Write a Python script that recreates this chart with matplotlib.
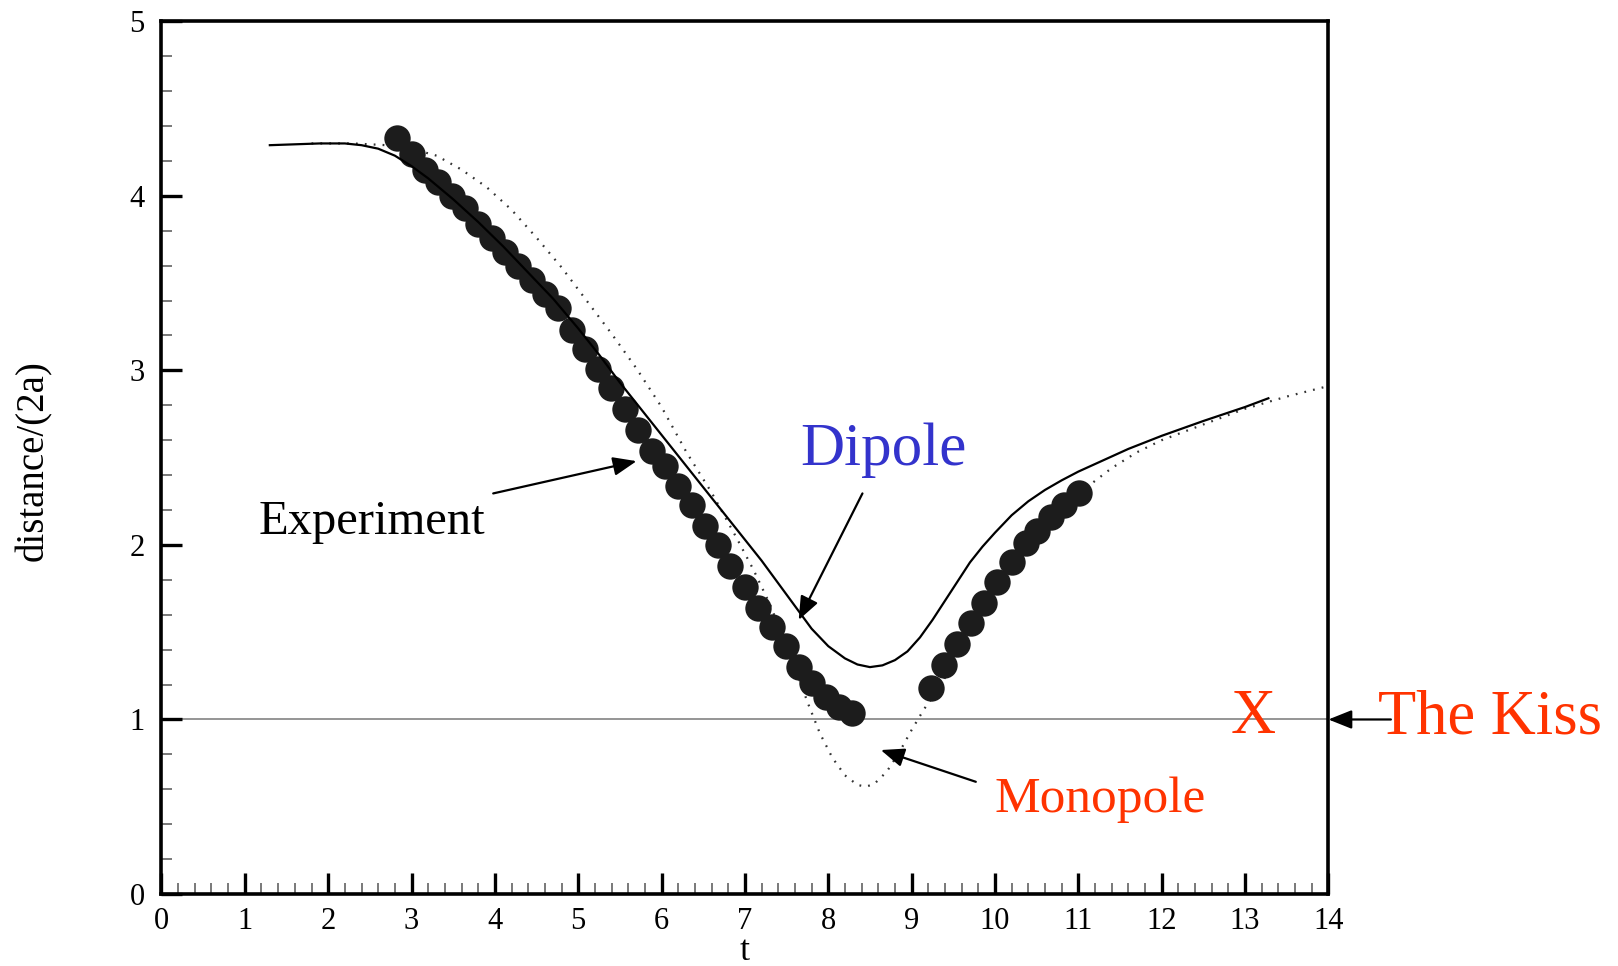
import matplotlib
matplotlib.use("Agg")
import matplotlib.pyplot as plt
from matplotlib.ticker import MultipleLocator

# ---------------- data ----------------
dipole_t = [1.3, 1.6, 1.9, 2.2, 2.4, 2.6, 2.8, 3.0, 3.2, 3.5, 3.8, 4.1, 4.4, 4.7,
            5.0, 5.25, 5.5, 5.75, 6.0, 6.25, 6.5, 6.75, 7.0, 7.2, 7.4, 7.6, 7.8,
            8.0, 8.2, 8.35, 8.5, 8.65, 8.8, 8.95, 9.1, 9.25, 9.4, 9.55, 9.7,
            9.85, 10.0, 10.2, 10.4, 10.6, 10.8, 11.0, 11.3, 11.6, 12.0, 12.5,
            13.0, 13.28]
dipole_d = [4.29, 4.295, 4.30, 4.30, 4.29, 4.27, 4.23, 4.17, 4.10, 3.98, 3.85,
            3.71, 3.56, 3.41, 3.24, 3.09, 2.93, 2.78, 2.63, 2.48, 2.33, 2.18,
            2.03, 1.91, 1.78, 1.65, 1.52, 1.42, 1.35, 1.315, 1.30, 1.31, 1.34,
            1.39, 1.47, 1.57, 1.68, 1.79, 1.90, 1.99, 2.07, 2.17, 2.25, 2.315,
            2.37, 2.42, 2.485, 2.55, 2.625, 2.71, 2.79, 2.84]

monopole_t = [1.8, 2.3, 2.7, 3.0, 3.3, 3.6, 3.9, 4.2, 4.5, 4.8, 5.1, 5.4, 5.7,
              6.0, 6.3, 6.6, 6.9, 7.1, 7.3, 7.45, 7.6, 7.75, 7.9, 8.05, 8.2,
              8.35, 8.45, 8.55, 8.7, 8.85, 9.0, 9.15, 9.3, 9.5, 9.7, 9.9, 10.1,
              10.3, 10.5, 10.7, 10.9, 11.1, 11.4, 11.7, 12.0, 12.5, 13.0, 13.5, 14.0]
monopole_d = [4.30, 4.30, 4.29, 4.27, 4.23, 4.15, 4.05, 3.92, 3.76, 3.59, 3.40,
              3.21, 3.01, 2.79, 2.53, 2.30, 2.04, 1.86, 1.66, 1.48, 1.30, 1.10,
              0.92, 0.78, 0.68, 0.625, 0.615, 0.63, 0.70, 0.81, 0.94, 1.06,
              1.16, 1.32, 1.48, 1.64, 1.80, 1.94, 2.06, 2.16, 2.25, 2.33, 2.44,
              2.53, 2.60, 2.69, 2.78, 2.85, 2.91]

exp_t = [2.83, 3.00, 3.16, 3.32, 3.48, 3.64, 3.80, 3.96, 4.12, 4.28, 4.44, 4.60,
         4.76, 4.92, 5.08, 5.24, 5.39, 5.56, 5.72, 5.88, 6.04, 6.20, 6.36, 6.52,
         6.68, 6.82, 7.00, 7.16, 7.33, 7.49, 7.65, 7.81, 7.97, 8.13, 8.29,
         9.23, 9.39, 9.55, 9.71, 9.87, 10.03, 10.21, 10.37, 10.51, 10.67, 10.83, 11.01]
exp_d = [4.33, 4.24, 4.15, 4.08, 4.00, 3.93, 3.84, 3.76, 3.68, 3.60, 3.52, 3.44,
         3.36, 3.23, 3.125, 3.01, 2.90, 2.78, 2.66, 2.54, 2.45, 2.34, 2.23, 2.11,
         2.00, 1.88, 1.76, 1.64, 1.53, 1.42, 1.30, 1.21, 1.13, 1.07, 1.035,
         1.18, 1.31, 1.43, 1.55, 1.67, 1.79, 1.90, 2.01, 2.08, 2.16, 2.23, 2.295]

kiss_level = 1.0
x_ticks = list(range(0, 15))
y_ticks = list(range(0, 6))

# ---------------- figure ----------------
plt.rcParams['font.family'] = ['Liberation Serif', 'DejaVu Serif']

fig = plt.figure(figsize=(16.18, 9.66), dpi=100)
ax = fig.add_axes([0.0998, 0.0745, 0.8210 - 0.0998, 0.978 - 0.0745])

ax.axhline(kiss_level, color='#8c8c8c', lw=1.3, zorder=1)
ax.plot(monopole_t, monopole_d, color='#333333', lw=1.6,
        linestyle=(0, (0.8, 3.2)), zorder=2)
ax.plot(dipole_t, dipole_d, color='black', lw=1.6, zorder=3,
        solid_joinstyle='round')
ax.plot(exp_t, exp_d, 'o', color='#1c1c1c', markersize=19,
        markeredgewidth=0, zorder=2.5)

ax.set_xlim(0, 14)
ax.set_ylim(0, 5)
ax.set_xticks(x_ticks)
ax.set_yticks(y_ticks)
ax.xaxis.set_minor_locator(MultipleLocator(0.2))
ax.yaxis.set_minor_locator(MultipleLocator(0.2))
ax.tick_params(which='major', direction='in', length=15, width=2.4,
               labelsize=22, color='black', top=False, right=False)
ax.tick_params(which='minor', direction='in', length=8, width=1.1,
               color='#555555', top=False, right=False)
ax.tick_params(axis='x', which='major', pad=9)
ax.tick_params(axis='y', which='major', pad=12)
for s in ax.spines.values():
    s.set_linewidth(2.6)

ax.set_xlabel('t', fontsize=26)
ax.set_ylabel('distance/(2a)', fontsize=28)
ax.xaxis.set_label_coords(0.5, -0.047)
ax.yaxis.set_label_coords(-0.094, 0.497)

# ---------------- annotations ----------------
ap = dict(arrowstyle='-|>,head_length=0.55,head_width=0.22', lw=1.6,
          color='black', mutation_scale=26, shrinkA=0, shrinkB=0)

ax.text(1.16, 2.06, 'Experiment', fontsize=35, color='black', va='baseline')
ax.annotate('', xy=(5.70, 2.48), xytext=(3.98, 2.295), arrowprops=ap)

ax.text(7.66, 2.46, 'Dipole', fontsize=44, color='#3333CC', va='baseline')
ax.annotate('', xy=(7.645, 1.57), xytext=(8.41, 2.295), arrowprops=ap)

ax.text(9.99, 0.47, 'Monopole', fontsize=37, color='#FF3300', va='baseline')
ax.annotate('', xy=(8.63, 0.825), xytext=(9.77, 0.643), arrowprops=ap)

ax.text(12.83, 0.92, 'X', fontsize=45, color='#FF3300', va='baseline')
ax.text(14.59, 0.92, 'The Kiss', fontsize=45, color='#FF3300', va='baseline',
        clip_on=False)
ax.annotate('', xy=(14.0, 1.0), xytext=(14.75, 1.0), arrowprops=ap,
            annotation_clip=False)

fig.savefig('out.png', dpi=100)
